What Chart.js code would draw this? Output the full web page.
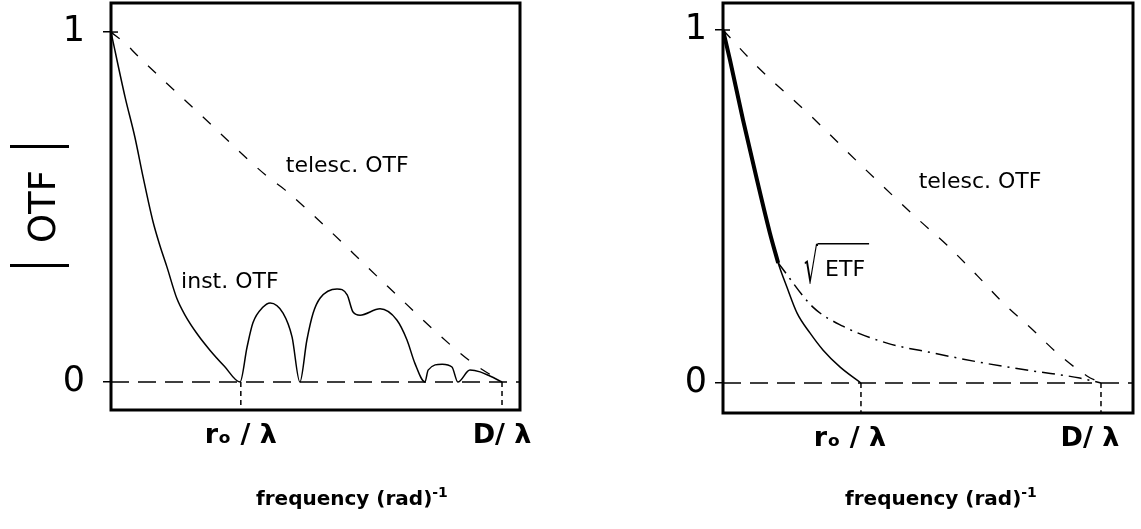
<!DOCTYPE html>
<html>
<head>
<meta charset="utf-8">
<script src="https://cdn.jsdelivr.net/npm/chart.js@4.4.0/dist/chart.umd.min.js"></script>
<style>
  html, body { margin: 0; padding: 0; background: #fff; }
  body { width: 1141px; height: 529px; position: relative; overflow: hidden; }
  .pane { position: absolute; top: 0; height: 529px; }
  #left { left: 0; width: 560px; }
  #right { left: 600px; width: 541px; }
  .xtitle { position: absolute; top: 484px; font: bold 20px "DejaVu Sans"; color: #000; white-space: nowrap; }
  .xtitle sup { font-size: 70%; }
</style>
</head>
<body>
<div class="pane" id="left"><canvas id="otfLeft"></canvas></div>
<div class="pane" id="right"><canvas id="otfRight"></canvas></div>
<div class="xtitle" style="left:256px">frequency (rad)<sup>-1</sup></div>
<div class="xtitle" style="left:845px">frequency (rad)<sup>-1</sup></div>
<script>
// axis ticks (x in units of D/lambda)
const xTickValuesL = [0.332, 1];
const xTickValuesR = [0.365, 1];
const xTickLabels = ['r\u2092 / \u03bb', 'D/ \u03bb'];
const yTickValues = [0, 1];
const yTickLabels = ['0', '1'];

// left panel: telescope OTF and instantaneous OTF
const teleLX = [0, 0.041, 0.061, 0.228, 0.40, 0.445, 0.706, 0.841, 0.918, 1];
const teleLY = [1, 0.963, 0.94, 0.765, 0.587, 0.549, 0.275, 0.133, 0.06, 0];
const instX = [0, 0.036, 0.061, 0.082, 0.107, 0.125, 0.143, 0.168, 0.19, 0.222, 0.253, 0.29, 0.33,
  0.348, 0.363, 0.389, 0.407, 0.44, 0.463, 0.483,
  0.501, 0.517, 0.535, 0.578, 0.604, 0.619, 0.637, 0.688, 0.731, 0.757, 0.777, 0.803,
  0.811, 0.847, 0.872, 0.887, 0.918, 0.944, 0.969, 1];
const instY = [1, 0.814, 0.70, 0.586, 0.46, 0.39, 0.329, 0.24, 0.19, 0.135, 0.091, 0.045, 0,
  0.10, 0.169, 0.214, 0.226, 0.197, 0.129, 0,
  0.12, 0.197, 0.24, 0.266, 0.249, 0.2, 0.191, 0.209, 0.177, 0.12, 0.054, 0,
  0.034, 0.051, 0.043, 0, 0.034, 0.029, 0.017, 0];

// right panel: telescope OTF, long exposure OTF, sqrt(ETF)
const teleRX = [0, 0.09, 0.23, 0.37, 0.513, 0.593, 0.672, 0.741, 0.82, 0.884, 0.963, 1];
const teleRY = [1, 0.897, 0.759, 0.612, 0.467, 0.39, 0.305, 0.227, 0.15, 0.085, 0.02, 0];
const longX = [0, 0.0185, 0.053, 0.090, 0.124, 0.146, 0.169, 0.196, 0.230, 0.265, 0.31, 0.365];
const longY = [1, 0.915, 0.745, 0.575, 0.425, 0.34, 0.272, 0.198, 0.142, 0.093, 0.045, 0];
const thickCount = 6;
const etfX = [0.146, 0.238, 0.317, 0.434, 0.556, 0.688, 0.820, 0.944, 1];
const etfY = [0.34, 0.215, 0.161, 0.113, 0.085, 0.057, 0.034, 0.014, 0];

function pts(xs, ys) { return xs.map((x, i) => ({ x: x, y: ys[i] })); }

function line(data, extra) {
  return Object.assign({
    data: data, showLine: true, pointRadius: 0, borderColor: '#000',
    borderWidth: 1.5, fill: false, cubicInterpolationMode: 'monotone'
  }, extra || {});
}

const frame = {
  id: 'frame',
  afterDraw(chart) {
    const { ctx, chartArea: a } = chart;
    ctx.save();
    ctx.lineWidth = 3;
    ctx.strokeStyle = '#000';
    ctx.strokeRect(a.left, a.top, a.right - a.left, a.bottom - a.top);
    // the "1" tick also reaches a little inside the frame
    const y1 = chart.scales.y.getPixelForValue(1);
    ctx.lineWidth = 1.5;
    ctx.beginPath();
    ctx.moveTo(a.left, y1);
    ctx.lineTo(a.left + 7, y1);
    ctx.stroke();
    ctx.restore();
  }
};

const notes = {
  id: 'notes',
  afterDatasetsDraw(chart, args, opts) {
    const { ctx, scales } = chart;
    ctx.save();
    ctx.fillStyle = '#000';
    ctx.strokeStyle = '#000';
    ctx.font = '22px "DejaVu Sans"';
    ctx.textBaseline = 'middle';
    ctx.textAlign = 'center';
    (opts.items || []).forEach(n => {
      const px = scales.x.getPixelForValue(n.x);
      const py = scales.y.getPixelForValue(n.y);
      ctx.fillText(n.text, px, py);
      if (n.root) {
        const tw = ctx.measureText(n.text).width;
        ctx.save();
        ctx.textAlign = 'left';
        ctx.textBaseline = 'alphabetic';
        const m = ctx.measureText('\u221a');
        const asc = m.actualBoundingBoxAscent, desc = m.actualBoundingBoxDescent;
        const top = py - 27, bottom = py + 15;
        const s = (bottom - top) / (asc + desc);
        const left = px - tw / 2 - 21;
        ctx.translate(left + m.actualBoundingBoxLeft, bottom - desc * s);
        ctx.scale(1, s);
        ctx.fillText('\u221a', 0, 0);
        ctx.restore();
        const inkRight = left + m.actualBoundingBoxLeft + m.actualBoundingBoxRight;
        ctx.lineWidth = 1.5;
        ctx.beginPath();
        ctx.moveTo(inkRight - 1.5, top + 0.75);
        ctx.lineTo(px + tw / 2 + 4, top + 0.75);
        ctx.stroke();
      }
    });
    ctx.restore();
  }
};

const yTitle = {
  id: 'yTitle',
  afterDraw(chart, args, opts) {
    if (!opts.text) return;
    const { ctx, chartArea: a } = chart;
    const cy = (a.top + a.bottom) / 2;
    ctx.save();
    ctx.fillStyle = '#000';
    ctx.font = '37px "DejaVu Sans"';
    ctx.textAlign = 'center';
    ctx.textBaseline = 'alphabetic';
    ctx.translate(55, cy);
    ctx.rotate(-Math.PI / 2);
    ctx.fillText(opts.text, 0, 0);
    [-59, 60].forEach(off => {
      ctx.save();
      ctx.translate(off, 0);
      ctx.scale(1, 1.6);
      ctx.fillText('|', 0, 0);
      ctx.restore();
    });
    ctx.restore();
  }
};

function makeOptions(cfg) {
  return {
    responsive: true,
    maintainAspectRatio: false,
    animation: false,
    layout: { padding: { top: 3, right: cfg.padRight, left: 0, bottom: 0 } },
    plugins: {
      legend: { display: false },
      tooltip: { enabled: false },
      notes: { items: cfg.notes },
      yTitle: { text: cfg.yTitle }
    },
    scales: {
      x: {
        type: 'linear', min: 0, max: cfg.xMax,
        afterBuildTicks: s => { s.ticks = cfg.xTicks.map(v => ({ value: v })); },
        afterFit: s => { s.height = cfg.xHeight; s.paddingLeft = 0; s.paddingRight = 0; },
        ticks: {
          callback: (v, i) => xTickLabels[i], color: '#000', padding: 10,
          labelOffset: cfg.labelOffset, maxRotation: 0, autoSkip: false,
          font: { family: 'DejaVu Sans', size: 27, weight: 'bold' }
        },
        grid: { drawOnChartArea: false, drawTicks: false },
        border: { display: false }
      },
      y: {
        type: 'linear', min: cfg.yMin, max: cfg.yMax,
        afterBuildTicks: s => { s.ticks = yTickValues.map(v => ({ value: v })); },
        afterFit: s => { s.width = cfg.yWidth; s.paddingTop = 0; s.paddingBottom = 0; },
        ticks: {
          callback: (v, i) => yTickLabels[i], color: '#000', padding: cfg.yPad, autoSkip: false,
          font: { family: 'DejaVu Sans', size: 35 }
        },
        grid: { drawOnChartArea: false, color: '#000', lineWidth: 1.5, tickLength: 8 },
        border: { display: false }
      }
    }
  };
}

window.addEventListener('load', () => {
  const yMinL = -0.08, yMaxL = 1.083, xMaxL = 1.046;
  new Chart(document.getElementById('otfLeft').getContext('2d'), {
    type: 'scatter',
    data: {
      datasets: [
        line(pts([0, xMaxL], [0, 0]), { borderDash: [18, 9], cubicInterpolationMode: 'default' }),
        line(pts([xTickValuesL[0], xTickValuesL[0]], [0, yMinL]), { borderDash: [5, 4] }),
        line(pts([xTickValuesL[1], xTickValuesL[1]], [0, yMinL]), { borderDash: [5, 4] }),
        line(pts(teleLX, teleLY), { borderWidth: 1.3, borderDash: [11, 14] }),
        line(pts(instX, instY))
      ]
    },
    options: makeOptions({
      xMax: xMaxL, yMin: yMinL, yMax: yMaxL, xTicks: xTickValuesL,
      padRight: 40, xHeight: 119, yWidth: 111, yPad: 18, labelOffset: 0,
      yTitle: 'OTF',
      notes: [
        { text: 'telesc. OTF', x: 0.604, y: 0.617 },
        { text: 'inst. OTF', x: 0.304, y: 0.286 }
      ]
    }),
    plugins: [frame, notes, yTitle]
  });

  const yMinR = -0.085, yMaxR = 1.0765, xMaxR = 1.0847;
  new Chart(document.getElementById('otfRight').getContext('2d'), {
    type: 'scatter',
    data: {
      datasets: [
        line(pts([0, xMaxR], [0, 0]), { borderDash: [18, 9], cubicInterpolationMode: 'default' }),
        line(pts([xTickValuesR[0], xTickValuesR[0]], [0, yMinR]), { borderDash: [5, 4] }),
        line(pts([xTickValuesR[1], xTickValuesR[1]], [0, yMinR]), { borderDash: [5, 4] }),
        line(pts(teleRX, teleRY), { borderWidth: 1.3, borderDash: [11, 14] }),
        line(pts(longX, longY)),
        line(pts(longX.slice(0, thickCount), longY.slice(0, thickCount)), { borderWidth: 4 }),
        line(pts(etfX, etfY), { borderDash: [13, 6, 2, 6] })
      ]
    },
    options: makeOptions({
      xMax: xMaxR, yMin: yMinR, yMax: yMaxR, xTicks: xTickValuesR,
      padRight: 8, xHeight: 116, yWidth: 123, yPad: 8, labelOffset: -11,
      yTitle: '',
      notes: [
        { text: 'telesc. OTF', x: 0.680, y: 0.569 },
        { text: 'ETF', x: 0.323, y: 0.32, root: true }
      ]
    }),
    plugins: [frame, notes, yTitle]
  });
});
</script>
</body>
</html>
